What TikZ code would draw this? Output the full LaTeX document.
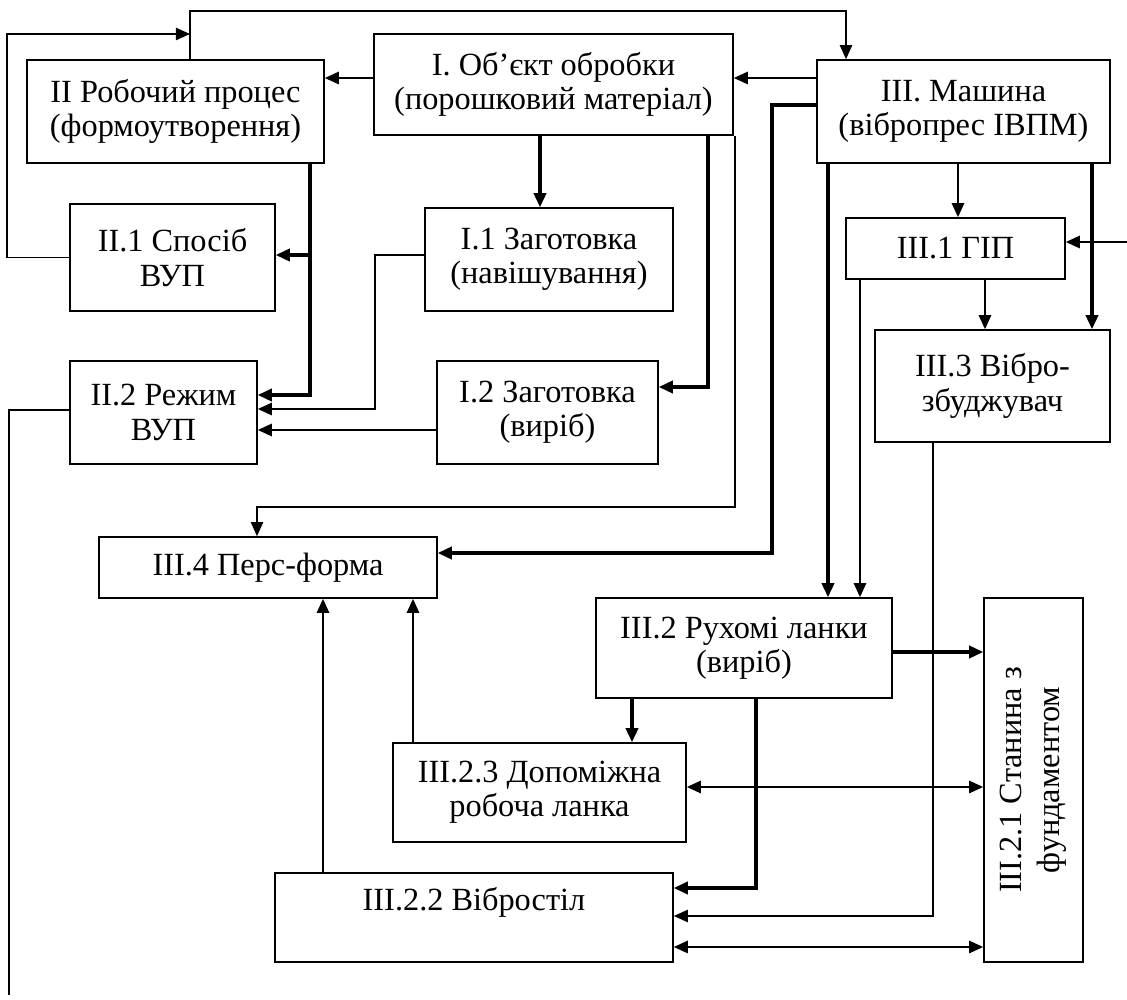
\documentclass[tikz,border=0pt]{standalone}
\usepackage{fontspec}
\setmainfont{Liberation Serif}
\usepackage{graphicx}
\usetikzlibrary{arrows.meta}

\begin{document}
\begin{tikzpicture}[x=0.02cm,y=-0.02cm,
    >={Triangle[length=8pt,width=7pt]},
    block/.style={draw,line width=0.95pt,inner sep=0pt,align=center,font=\fontsize{18.4}{19.5}\selectfont},
    wire/.style={line width=0.85pt},
    wiremid/.style={line width=1.15pt},
    wirebold/.style={line width=1.75pt}]
  \useasboundingbox (0,0) rectangle (1127,1000);

  \node[block,minimum width=5.94cm,minimum height=2.06cm] (ii) at (175.5,111.5) {II Робочий процес\\(формоутворення)};
  \node[block,minimum width=7.18cm,minimum height=2.02cm] (i) at (553.5,84.5) {I. Об’єкт обробки\\(порошковий матеріал)};
  \node[block,minimum width=5.86cm,minimum height=2.06cm] (iii) at (963.5,111.5) {III. Машина\\(вібропрес ІВПМ)};
  \node[block,minimum width=4.10cm,minimum height=2.14cm] (ii1) at (172.5,257.5) {II.1 Спосіб\\ВУП};
  \node[block,minimum width=4.96cm,minimum height=2.06cm] (i1) at (549,259.5) {I.1 Заготовка\\(навішування)};
  \node[block,minimum width=4.38cm,minimum height=1.22cm] (iii1) at (955.5,248.5) {III.1 ГІП};
  \node[block,minimum width=4.70cm,minimum height=2.24cm] (iii3) at (992.5,386) {III.3 Вібро-\\збуджувач};
  \node[block,minimum width=3.74cm,minimum height=2.06cm] (ii2) at (163.5,412.5) {II.2 Режим\\ВУП};
  \node[block,minimum width=4.42cm,minimum height=2.06cm] (i2) at (547.5,412.5) {I.2 Заготовка\\(виріб)};
  \node[block,minimum width=6.76cm,minimum height=1.22cm] (iii4) at (268,567.5) {III.4 Перс-форма};
  \node[block,minimum width=5.92cm,minimum height=2.00cm] (iii2) at (744,648) {III.2 Рухомі ланки\\(виріб)};
  \node[block,minimum width=5.86cm,minimum height=1.98cm] (iii23) at (539.5,792.5) {III.2.3 Допоміжна\\робоча ланка};
  \node[block,minimum width=7.96cm,minimum height=1.78cm] (iii22) at (474,917.5) {III.2.2 Вібростіл\\[-4pt]\strut};
  \node[block,minimum width=1.98cm,minimum height=7.28cm] (stan) at (1033.5,780)
    {\rotatebox{90}{\begin{tabular}{@{}c@{}}III.2.1 Станина з\\[2pt]фундаментом\end{tabular}}};

  \coordinate (k1) at (190,11);
  \coordinate (k2) at (846,11);
  \coordinate (k3) at (7,34);
  \coordinate (k4) at (0,78);
  \coordinate (k5) at (310,395);
  \coordinate (k6) at (310,255);
  \coordinate (k7) at (540,0);
  \coordinate (k8) at (708,387);
  \coordinate (k9) at (735,507);
  \coordinate (k10) at (257,507);
  \coordinate (k11) at (375,255);
  \coordinate (k12) at (375,409);
  \coordinate (k13) at (0,430);
  \coordinate (k14) at (772,105);
  \coordinate (k15) at (772,553);
  \coordinate (k16) at (828,0);
  \coordinate (k17) at (958,0);
  \coordinate (k18) at (1092,0);
  \coordinate (k19) at (1127,242);
  \coordinate (k20) at (985,0);
  \coordinate (k21) at (860,0);
  \coordinate (k22) at (933,916);
  \coordinate (k23) at (0,652);
  \coordinate (k24) at (632,0);
  \coordinate (k25) at (756,888);
  \coordinate (k26) at (0,787);
  \coordinate (k27) at (0,947);
  \coordinate (k28) at (413,0);
  \coordinate (k29) at (323,0);
  \coordinate (k30) at (9,995);
  \coordinate (k31) at (0,410);

  % upper part
  \draw[wire,->] (ii.north -| k1) -- (k1) -- (k2) -- (iii.north -| k2);
  \draw[wire,->] (ii1.west) -| (k3) -- (k3 -| k1);
  \draw[wiremid,->] (iii.west |- k4) -- (i.east |- k4);
  \draw[wiremid,->] (i.west |- k4) -- (ii.east |- k4);
  \draw[wirebold,->] (ii.south -| k5) -- (k5) -- (ii2.east |- k5);
  \draw[wirebold,->] (k6) -- (ii1.east |- k6);
  \draw[wirebold,->] (i.south -| k7) -- (i1.north -| k7);
  \draw[wirebold,->] (i.south -| k8) -- (k8) -- (i2.east |- k8);
  \draw[wire,->] (i.south -| k9) -- (k9) -- (k10) -- (iii4.north -| k10);
  \draw[wiremid,->] (i1.west |- k11) -- (k11) -- (k12) -- (ii2.east |- k12);
  \draw[wiremid,->] (i2.west |- k13) -- (ii2.east |- k13);
  \draw[wirebold,->] (iii.west |- k14) -- (k14) -- (k15) -- (iii4.east |- k15);
  \draw[wirebold,->] (iii.south -| k16) -- (iii2.north -| k16);
  \draw[wiremid,->] (iii.south -| k17) -- (iii1.north -| k17);
  \draw[wirebold,->] (iii.south -| k18) -- (iii3.north -| k18);
  \draw[wiremid,->] (k19) -- (iii1.east |- k19);
  \draw[wiremid,->] (iii1.south -| k20) -- (iii3.north -| k20);
  \draw[wiremid,->] (iii1.south -| k21) -- (iii2.north -| k21);

  % lower part
  \draw[wire,->] (iii3.south -| k22) -- (k22) -- (iii22.east |- k22);
  \draw[wirebold,->] (iii2.east |- k23) -- (stan.west |- k23);
  \draw[wirebold,->] (iii2.south -| k24) -- (iii23.north -| k24);
  \draw[wirebold,->] (iii2.south -| k25) -- (k25) -- (iii22.east |- k25);
  \draw[wiremid,<->] (iii23.east |- k26) -- (stan.west |- k26);
  \draw[wiremid,<->] (iii22.east |- k27) -- (stan.west |- k27);
  \draw[wiremid,->] (iii23.north -| k28) -- (iii4.south -| k28);
  \draw[wiremid,->] (iii22.north -| k29) -- (iii4.south -| k29);
  \draw[wire] (ii2.west |- k31) -| (k30);
\end{tikzpicture}
\end{document}
